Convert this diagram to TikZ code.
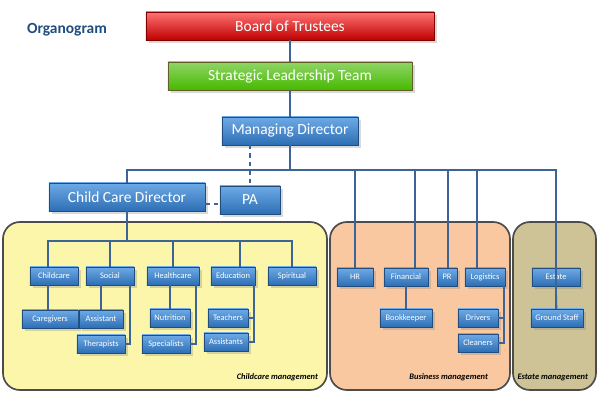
\documentclass[tikz,border=0pt]{standalone}
\usepackage{fontspec}
\setmainfont{Carlito}
\usetikzlibrary{shadows}
\definecolor{boxblue}{RGB}{45,110,180}
\definecolor{boxtop}{RGB}{110,170,230}
\definecolor{linecol}{RGB}{60,100,150}
\definecolor{ccyellow}{RGB}{252,246,170}
\definecolor{bzpeach}{RGB}{250,200,160}
\definecolor{estan}{RGB}{205,195,150}

\begin{document}
\begin{tikzpicture}[x=0.025cm,y=-0.025cm]
    \tikzstyle{unit}=[draw=boxblue!70!black,top color=boxtop,bottom color=boxblue,text=white,inner sep=0,drop shadow={opacity=.3,shadow xshift=.8mm,shadow yshift=-.8mm}]
    \tikzstyle{small unit}=[unit,minimum height=4.5mm,font=\fontsize{6}{7}\selectfont]
    \tikzstyle{big unit}=[unit,minimum height=7mm,font=\fontsize{11}{13}\selectfont]
    \tikzstyle{area}=[draw=black!70,very thick,rounded corners=12]
    \tikzstyle{area label}=[font=\fontsize{6}{7}\selectfont\bfseries\itshape,anchor=east]
    \tikzstyle{link}=[draw=linecol,thick]
    \useasboundingbox (0,0) rectangle (600,400);
    \node[text=boxblue!70!black,font=\fontsize{11}{13}\selectfont\bfseries] (title) at (67,30) {Organogram};
    % management areas
    \draw[area,fill=ccyellow] (3,222) rectangle (327,390);
    \draw[area,fill=bzpeach] (330,222) rectangle (510,390);
    \draw[area,fill=estan] (513,222) rectangle (596,390);
    \node[area label] (cclabel) at (323,377) {Childcare management};
    \node[area label] (bzlabel) at (493,377) {Business management};
    \node[area label] (eslabel) at (593,377) {Estate management};
    % top levels
    \node[big unit,minimum width=72mm,top color=red!55,bottom color=red!75!black,draw=red!50!black] (board) at (290,26) {Board of Trustees};
    \node[big unit,minimum width=61mm,top color=green!45!olive!60,bottom color=green!45!olive,draw=olive!60!black] (slt) at (290,76) {Strategic Leadership Team};
    \node[big unit,minimum width=34mm] (md) at (290,131) {Managing Director};
    \node[big unit,minimum width=39mm] (ccd) at (127,197) {Child Care Director};
    \node[big unit,minimum width=15mm] (pa) at (250,200) {PA};
    % childcare
    \node[small unit,minimum width=12mm] (childcare) at (54,276) {Childcare};
    \node[small unit,minimum width=12mm] (social) at (110,276) {Social};
    \node[small unit,minimum width=13mm] (health) at (173,276) {Healthcare};
    \node[small unit,minimum width=11mm] (educ) at (233,276) {Education};
    \node[small unit,minimum width=12mm] (spirit) at (292,276) {Spiritual};
    \node[small unit,minimum width=14mm] (caregivers) at (50,319) {Caregivers};
    \node[small unit,minimum width=11mm] (assistant) at (101,319) {Assistant};
    \node[small unit,minimum width=12mm] (therapists) at (101,344) {Therapists};
    \node[small unit,minimum width=10mm] (nutrition) at (170,318) {Nutrition};
    \node[small unit,minimum width=12mm] (specialists) at (166,344) {Specialists};
    \node[small unit,minimum width=10mm] (teachers) at (228,318) {Teachers};
    \node[small unit,minimum width=11mm] (assistants) at (226,342) {Assistants};
    % business and estate
    \node[small unit,minimum width=9mm] (hr) at (355,277) {HR};
    \node[small unit,minimum width=11mm] (financial) at (406,277) {Financial};
    \node[small unit,minimum width=5mm] (pr) at (447,277) {PR};
    \node[small unit,minimum width=10mm] (logistics) at (485,277) {Logistics};
    \node[small unit,minimum width=12mm] (estate) at (556,277) {Estate};
    \node[small unit,minimum width=13mm] (bookkeeper) at (406,318) {Bookkeeper};
    \node[small unit,minimum width=10mm] (drivers) at (478,318) {Drivers};
    \node[small unit,minimum width=10mm] (cleaners) at (478,343) {Cleaners};
    \node[small unit,minimum width=13mm] (ground) at (557,318) {Ground Staff};
    % connectors
    \coordinate (mdbus) at (290,170);
    \draw[link] (board) -- (slt);
    \draw[link] (slt) -- (md);
    \draw[link] (md) -- (mdbus);
    \draw[link] (ccd.north) |- (mdbus) -| (ground.north -| estate);
    \foreach \n/\x in {hr/355,financial/415,pr/448,logistics/477}
        \draw[link] (\x,170) -- (\n.north -| \x,0);
    \draw[link,dashed] (250,145) -- (pa);
    \draw[link,dashed] (ccd.east |- 0,204) -- (pa.west |- 0,204);
    \coordinate (ccbus) at (127,241);
    \draw[link] (ccd) -- (ccbus);
    \draw[link] (childcare.north -| 48,0) |- (ccbus) -| (spirit);
    \foreach \n/\x in {social/110,health/173,educ/240}
        \draw[link] (\x,241) -- (\n.north -| \x,0);
    \draw[link] (childcare.south -| 48,0) -- (caregivers.north -| 48,0);
    \draw[link] (social.south -| 101,0) -- (assistant);
    \draw[link] (social.south -| 130,0) |- (therapists);
    \draw[link] (health.south -| 170,0) -- (nutrition);
    \draw[link] (health.south -| 196,0) |- (specialists);
    \draw[link] (educ.south -| 254,0) |- (assistants);
    \draw[link] (254,318) -- (teachers);
    \draw[link] (financial) -- (bookkeeper);
    \draw[link] (logistics.south -| 504,0) |- (cleaners);
    \draw[link] (504,318) -- (drivers);
    \draw[link] (estate) -- (ground);
\end{tikzpicture}
\end{document}
